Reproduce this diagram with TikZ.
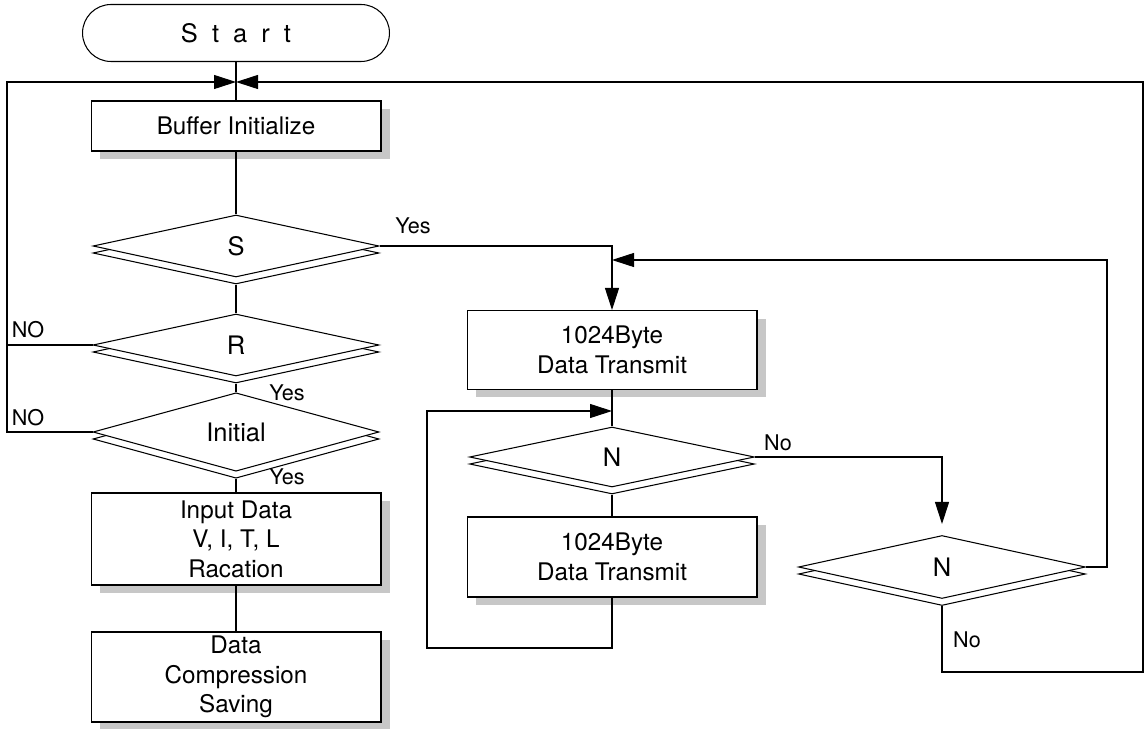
\documentclass[tikz,border=0pt]{standalone}
\usepackage{fontspec}
\setmainfont{TeX Gyre Heros}
\usetikzlibrary{arrows.meta,shapes.geometric,shadows}
\tikzset{>={Triangle[length=0.44cm,width=0.28cm]}}
\tikzset{
  proc/.style={draw, fill=white, line width=0.6pt, align=center, inner sep=0pt,
    minimum width=5.8cm, font=\fontsize{13.8}{16.8}\selectfont,
    drop shadow={shadow xshift=0.18cm, shadow yshift=-0.16cm, fill=black!22, opacity=1}},
  cond/.style={diamond, draw, fill=white, line width=0.6pt, inner sep=0pt,
    minimum width=5.72cm, minimum height=1.24cm, font=\fontsize{14.5}{16}\selectfont,
    copy shadow={shadow xshift=0cm, shadow yshift=-0.14cm, draw=black, fill=white, line width=0.6pt}},
  lbl/.style={font=\fontsize{12.3}{14}\selectfont},
}

\begin{document}
\begin{tikzpicture}[x=0.02cm, y=-0.02cm, line width=0.6pt]
        \useasboundingbox (0,0) rectangle (1145,729);

        % left column
        \node[draw, fill=white, rounded corners=0.57cm, minimum width=6.14cm, minimum height=1.14cm,
              font=\fontsize{14.5}{16}\selectfont] (start) at (236,33)
              {S\hspace{8pt}t\hspace{8pt}a\hspace{8pt}r\hspace{8pt}t};
        \node[proc, minimum height=1cm] (buf) at (236,126) {Buffer Initialize};
        \node[cond] (s) at (236,246) {S};
        \node[cond] (r) at (236,345) {R};
        \node[cond] (init) at (236,432) {Initial};
        \node[proc, minimum height=1.84cm] (input) at (236,539) {Input Data\\V, I, T, L\\Racation};
        \node[proc, minimum height=1.8cm] (save) at (236,677) {Data\\Compression\\Saving};

        % right column
        \node[proc, minimum height=1.58cm] (tx1) at (612,350) {1024Byte\\Data Transmit};
        \node[cond, minimum width=5.7cm, minimum height=1.2cm] (n1) at (612,457) {N};
        \node[proc, minimum height=1.6cm] (tx2) at (612,557) {1024Byte\\Data Transmit};
        \node[cond, minimum width=5.74cm, minimum height=1.26cm] (n2) at (942,567) {N};

        \coordinate (top) at (236,82);
        \coordinate (lft) at (7,82);
        \coordinate (back) at (612,260);
        \coordinate (loop) at (612,411);
        \coordinate (lb) at (427,648);
        \coordinate (rb) at (1143,672);

        \draw (start) -- (buf);
        \draw (buf) -- (s);
        \draw ([yshift=-0.14cm]s.south) -- (r.north);
        \draw ([yshift=-0.14cm]r.south) -- (init.north);
        \draw ([yshift=-0.14cm]init.south) -- (input.north);
        \draw (input) -- (save);

        \draw[->] (init.west) -| (lft) -- (top);
        \draw (r.west) -- (r.west -| lft);

        \draw[->] (s.east) -| (tx1.north);
        \draw (tx1) -- (n1);
        \draw ([yshift=-0.14cm]n1.south) -- (tx2.north);
        \draw[->] (tx2.south) |- (lb) |- (loop);
        \draw[->, shorten >=0.22cm] (n1.east) -| (n2.north);
        \draw[->] (n2.east) -- ++(0.42cm,0) |- (back);
        \draw[->] ([yshift=-0.14cm]n2.south) |- (rb) |- (top);

        \node[lbl] (yes1) at (413,226) {Yes};
        \node[lbl] (no1) at (28,330) {NO};
        \node[lbl] (no2) at (28,418) {NO};
        \node[lbl] (yes2) at (287,393) {Yes};
        \node[lbl] (yes3) at (287,477) {Yes};
        \node[lbl] (no3) at (778,443) {No};
        \node[lbl] (no4) at (967,640) {No};
    \end{tikzpicture}
\end{document}
